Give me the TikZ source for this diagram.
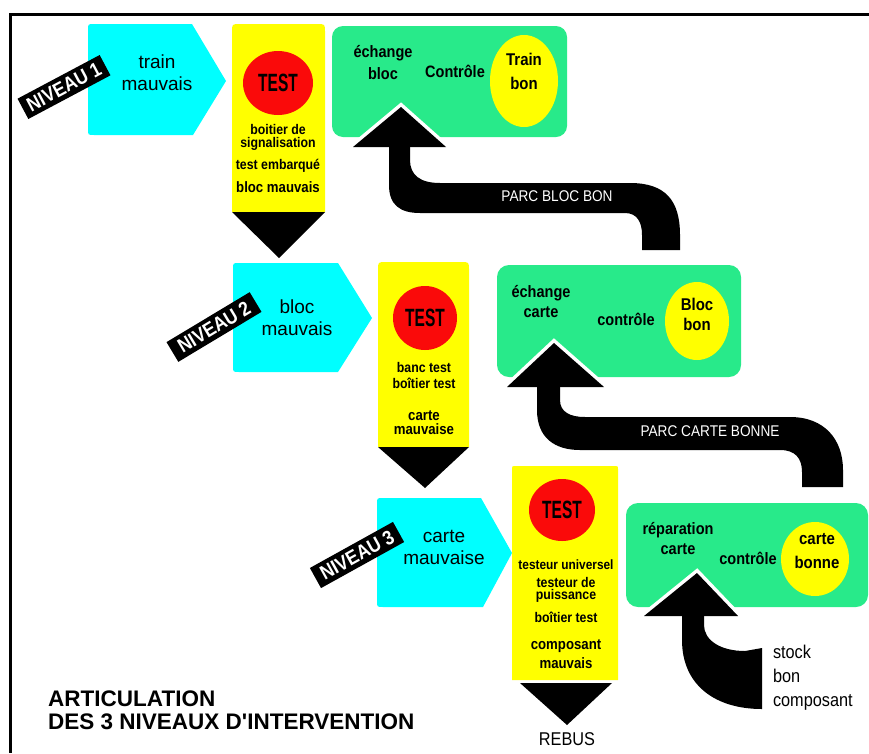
\documentclass[tikz,border=0pt]{standalone}
\usepackage{fontspec}
\setmainfont{Liberation Sans}
\newfontfamily\cnd[FakeStretch=0.88]{Liberation Sans}
\newfontfamily\cndx[FakeStretch=0.62]{Liberation Sans}
\definecolor{cyanC}{RGB}{0,255,255}
\definecolor{yellowC}{RGB}{255,255,0}
\definecolor{redC}{RGB}{250,10,10}
\definecolor{greenC}{RGB}{40,234,138}
\tikzset{
  lbl/.style={inner sep=0pt, outer sep=0pt, align=center, anchor=north},
  cyanlbl/.style={lbl, font=\fontsize{19}{22}\selectfont},
  testlbl/.style={lbl, font=\cnd\bfseries\fontsize{14}{14}\selectfont},
  testbig/.style={lbl, font=\cnd\bfseries\fontsize{15}{15}\selectfont},
  greenlbl/.style={lbl, font=\cnd\bfseries\fontsize{16.5}{20}\selectfont},
  elllbl/.style={lbl, font=\cnd\bfseries\fontsize{17}{24}\selectfont},
  testword/.style={inner sep=0pt, font=\cndx\bfseries\fontsize{25}{25}\selectfont},
  tag/.style={fill=black, text=white, inner sep=0pt, font=\cnd\bfseries\fontsize{20}{20}\selectfont, minimum height=23pt},
  parclbl/.style={lbl, text=white, font=\cnd\fontsize{15.5}{15.5}\selectfont},
  plainlbl/.style={inner sep=0pt, outer sep=0pt, font=\cnd\fontsize{18.5}{24}\selectfont},
  whiteedge/.style={white, line width=7pt, line join=miter},
}
\begin{document}
\begin{tikzpicture}[x=1pt,y=-1pt]
\useasboundingbox (0,0) rectangle (869,753);
% frame
\draw[line width=3pt] (869,14) -- (10,14) -- (10,753);

% ---------- cyan pentagons
\fill[cyanC] (192,24) -- (226,81) -- (193,135) -- (94,135) .. controls (88,135) .. (88,129) -- (88,30) .. controls (88,24) .. (94,24) -- cycle;
\fill[cyanC] (338,263) -- (372,318) -- (338,372) -- (239,372) .. controls (233,372) .. (233,366) -- (233,269) .. controls (233,263) .. (239,263) -- cycle;
\fill[cyanC] (481,498) -- (512,553) -- (483,607) -- (383,607) .. controls (377,607) .. (377,601) -- (377,504) .. controls (377,498) .. (383,498) -- cycle;

% ---------- level tags
\node[tag, minimum width=93pt, rotate=28] (tag1) at (64,87) {NIVEAU 1};
\node[tag, minimum width=97pt, rotate=31] (tag2) at (214,327) {NIVEAU 2};
\node[tag, minimum width=95pt, rotate=29] (tag3) at (357,555) {NIVEAU 3};

% ---------- yellow test boxes and down triangles
\fill[yellowC] (232,212) -- (232,32) .. controls (232,24) .. (240,24) -- (317,24) .. controls (325,24) .. (325,32) -- (325,212) -- cycle;
\fill[black] (232,212) -- (325,212) -- (279,258) -- cycle;
\fill[yellowC] (378,447) -- (378,270) .. controls (378,262) .. (386,262) -- (461,262) .. controls (469,262) .. (469,270) -- (469,447) -- cycle;
\fill[black] (378,447) -- (469,447) -- (425,488) -- cycle;
\fill[yellowC] (512,680) -- (512,469) .. controls (512,466) .. (515,466) -- (615,466) .. controls (618,466) .. (618,469) -- (618,680) -- cycle;
\fill[black] (520,683) -- (612,683) -- (567,725) -- cycle;

% red circles
\fill[redC] (278,83) ellipse [x radius=35, y radius=32];
\fill[redC] (425,318) ellipse [x radius=32, y radius=32];
\fill[redC] (562,510) ellipse [x radius=33, y radius=31];

% ---------- green boxes
\fill[greenC, rounded corners=11pt] (332,26) rectangle (567,137);
\fill[greenC, rounded corners=12pt] (497,265) rectangle (741,377);
\fill[greenC, rounded corners=12pt] (626,503) rectangle (868,607);

% yellow ellipses
\fill[yellowC] (524,81) ellipse [x radius=34, y radius=46];
\fill[yellowC] (697,321) ellipse [x radius=32, y radius=39];
\fill[yellowC] (815,559) ellipse [x radius=34, y radius=37];

% ---------- black return arrows
% arrow 1
\draw[whiteedge] (353,147) -- (401,107) -- (446,147);
\fill[black] (389,147) -- (389,185) .. controls (389,205) and (400,213) .. (420,213) -- (625,213) .. controls (637,213) and (642,222) .. (642,235) -- (642,250) -- (680,250) -- (680,235) .. controls (680,200) and (665,183) .. (630,183) -- (440,183) .. controls (420,183) and (410,175) .. (410,160) -- (410,147) -- cycle;
\fill[black] (353,147) -- (401,107) -- (446,147) -- cycle;
% arrow 2
\draw[whiteedge] (507,387) -- (554,343) -- (604,387);
\fill[black] (537,387) -- (537,410) .. controls (537,438) and (555,450) .. (580,450) -- (780,450) .. controls (795,450) and (802,458) .. (802,472) -- (802,487) -- (843,487) -- (843,470) .. controls (843,440) and (825,417) .. (790,417) -- (585,417) .. controls (570,417) and (560,412) .. (560,400) -- (560,387) -- cycle;
\fill[black] (507,387) -- (554,343) -- (604,387) -- cycle;
% arrow 3
\draw[whiteedge] (644,616) -- (697,573) -- (738,616);
\fill[black] (682,616) -- (682,640) .. controls (682,685) and (715,709) .. (762,709) -- (762,648) -- (745,651) .. controls (720,651) and (704,640) .. (704,625) -- (704,616) -- cycle;
\fill[black] (644,616) -- (697,573) -- (738,616) -- cycle;

% ---------- texts: cyan
\node[cyanlbl] (c1) at (157,55) {train\\mauvais};
\node[cyanlbl] (c2) at (297,300) {bloc\\mauvais};
\node[cyanlbl] (c3) at (444,530) {carte\\mauvaise};

% TEST words
\node[testword] (test1) at (278,83) {TEST};
\node[testword] (test2) at (425,318) {TEST};
\node[testword] (test3) at (562,510) {TEST};

% test box lists
\node[testlbl] (t1a) at (278,124) {boitier de\\[-1pt]signalisation};
\node[testlbl] (t1b) at (278,159) {test embarqué};
\node[testbig] (t1c) at (278,182) {bloc mauvais};
\node[testlbl] (t2a) at (424,362) {banc test\\[2pt]boîtier test};
\node[testbig] (t2b) at (424,411) {carte\\[-1pt]mauvaise};
\node[testlbl, font=\cnd\bfseries\fontsize{13.5}{13.5}\selectfont] (t3a) at (566,560) {testeur universel};
\node[testlbl] (t3b) at (566,577) {testeur de\\[-2pt]puissance};
\node[testlbl] (t3c) at (566,612) {boîtier test};
\node[testbig] (t3d) at (566,640) {composant\\[4pt]mauvais};

% green box labels
\node[greenlbl, font=\cnd\bfseries\fontsize{16.5}{22}\selectfont] (g1a) at (383,45) {échange\\bloc};
\node[greenlbl] (g1b) at (455,65) {Contrôle};
\node[elllbl] (e1) at (524,53) {Train\\bon};
\node[greenlbl] (g2a) at (541,285) {échange\\carte};
\node[greenlbl] (g2b) at (626,313) {contrôle};
\node[elllbl, font=\cnd\bfseries\fontsize{17}{20}\selectfont] (e2) at (697,298) {Bloc\\bon};
\node[greenlbl] (g3a) at (678,522) {réparation\\carte};
\node[greenlbl] (g3b) at (748,552) {contrôle};
\node[elllbl] (e3) at (817,533) {carte\\bonne};

% arrow labels
\node[parclbl] (p1) at (557,191) {PARC BLOC BON};
\node[parclbl] (p2) at (710,426) {PARC CARTE BONNE};
\node[plainlbl, align=left, anchor=north west] (stock) at (773,645) {stock\\bon\\composant};
\node[plainlbl, anchor=north] (rebus) at (567,733) {REBUS};

% title
\node[inner sep=0pt, align=left, anchor=north west, font=\bfseries\fontsize{22.5}{23}\selectfont] (title) at (48,691) {ARTICULATION\\DES 3 NIVEAUX D\textquotesingle INTERVENTION};
\end{tikzpicture}
\end{document}
